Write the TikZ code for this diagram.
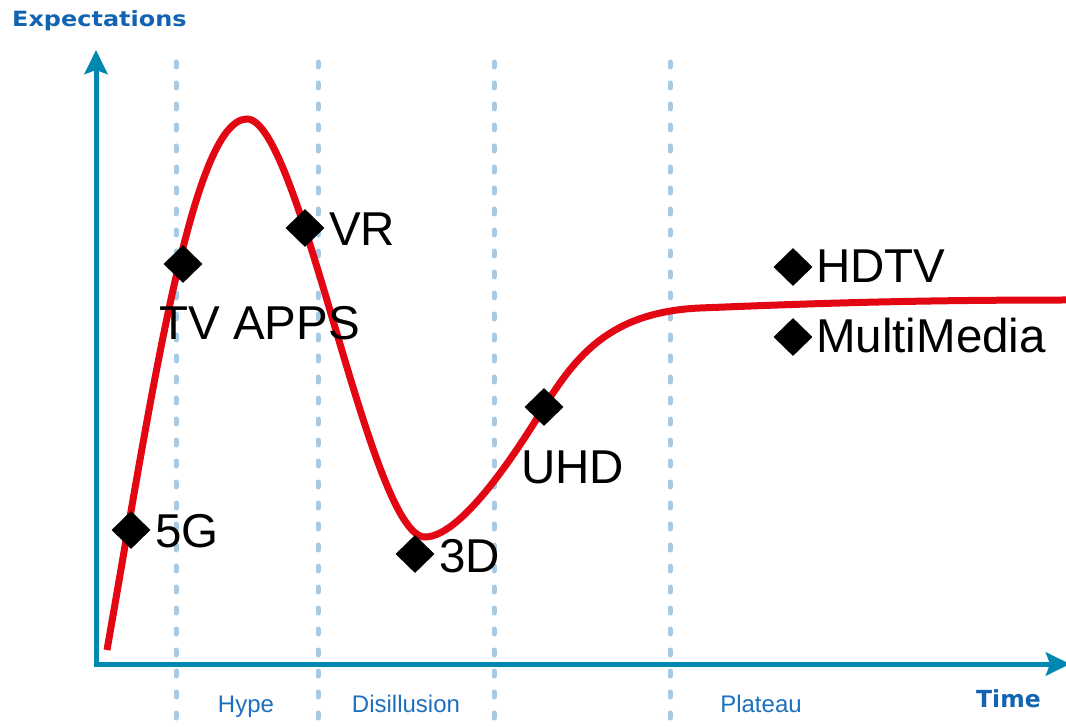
\documentclass[tikz,border=0pt]{standalone}
\usepackage{fontspec}
\setmainfont{Liberation Sans}
\newfontfamily\labelbold{DejaVu Sans}
\usetikzlibrary{arrows.meta,shapes.geometric}

\definecolor{axisblue}{RGB}{0,136,176}
\definecolor{phaseblue}{RGB}{166,202,228}
\definecolor{titleblue}{RGB}{18,100,178}
\definecolor{stageblue}{RGB}{30,112,190}
\definecolor{hypered}{RGB}{227,6,19}

\tikzset{
  axisline/.style={draw=axisblue, line width=5pt,
    -{Stealth[length=24pt,width=23pt,inset=4pt]}},
  phaseline/.style={draw=phaseblue, line width=5pt, line cap=round,
    dash pattern=on 5pt off 16pt},
  hypecurve/.style={draw=hypered, line width=7pt},
  marker/.style={diamond, fill=black, inner sep=0pt,
    minimum width=39pt, minimum height=38pt},
  techlabel/.style={inner sep=0pt, anchor=base west,
    font=\fontsize{47.5}{52}\selectfont},
  axislabel/.style={inner sep=0pt, text=titleblue,
    font=\labelbold\bfseries\fontsize{23.5}{26}\selectfont},
  stagelabel/.style={inner sep=0pt, anchor=base, text=stageblue,
    font=\fontsize{24}{26}\selectfont}
}

\begin{document}
\begin{tikzpicture}[x=1pt,y=-1pt]
\useasboundingbox (0,0) rectangle (1066,727);
\fill[white] (0,0) rectangle (1066,727);

% phase separators
\foreach \px/\nm in {176/a,318/b,494/c,670/d}{
  \coordinate (top\nm) at (\px,62);
  \coordinate (bot\nm) at (\px,740);
  \draw[phaseline] (top\nm) -- (bot\nm);
}

% axes
\coordinate (O) at (96,664);
\coordinate (ytip) at (96,50);
\coordinate (xtip) at (1070,664);
\coordinate (corner) at (93.5,664);
\draw[axisline] (O) -- (ytip);
\draw[axisline] (corner) -- (xtip);

\node[axislabel, anchor=base west,
      font=\labelbold\bfseries\fontsize{21}{24}\selectfont] (ylab) at (12,27)
  {\scalebox{1.14}[1]{Expectations}};
\node[axislabel, anchor=base west] (xlab) at (976,707) {Time};

% hype cycle: rise, peak, trough, slope and plateau
\coordinate (c0) at (107,650);
\coordinate (peak) at (247,119);
\coordinate (trough) at (425,537);
\coordinate (slope) at (544,407);
\coordinate (knee) at (700,308);
\coordinate (cend) at (1066,300);
\draw[hypecurve]
  (c0) .. controls (151,400) and (192,119) .. (peak)
       .. controls (300,119) and (370,537) .. (trough)
       .. controls (465,537) and (528,433) .. (slope)
       .. controls (576,356) and (610,312) .. (knee)
       .. controls (800,304) and (900,300) .. (cend);

% technologies
\node[marker] (m5g) at (131,530) {};
\node[techlabel] (t5g) at (155,547) {5G};
\node[marker] (mtv) at (183,264) {};
\node[techlabel] (ttv) at (159,340) {TV APPS};
\node[marker] (mvr) at (305,228) {};
\node[techlabel] (tvr) at (329,246) {VR};
\node[marker] (m3d) at (415,554) {};
\node[techlabel] (t3d) at (439,572) {3D};
\node[marker] (muhd) at (544,407) {};
\node[techlabel] (tuhd) at (521,483) {UHD};
\node[marker] (mhd) at (793,267) {};
\node[techlabel] (thd) at (816,283) {HDTV};
\node[marker] (mmm) at (793,337) {};
\node[techlabel] (tmm) at (816,353) {MultiMedia};

% stages
\node[stagelabel] (hype) at (246,712) {Hype};
\node[stagelabel] (dis) at (406,712) {Disillusion};
\node[stagelabel] (plat) at (761,712) {Plateau};
\end{tikzpicture}
\end{document}
